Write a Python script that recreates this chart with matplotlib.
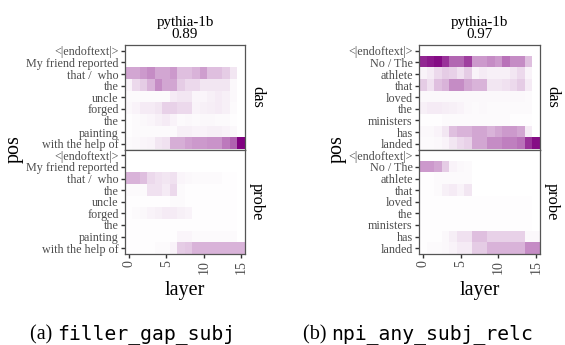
import numpy as np
import matplotlib
matplotlib.use("Agg")
import matplotlib.pyplot as plt
from matplotlib.colors import LinearSegmentedColormap

W, H = 565, 345

layers = list(range(16))
xticks = [0, 5, 10, 15]

pos_a = ["<|endoftext|>", "My friend reported", "that /  who", "the", "uncle",
         "forged", "the", "painting", "with the help of"]
pos_b = ["<|endoftext|>", "No / The", "athlete", "that", "loved", "the",
         "ministers", "has", "landed"]

title_a = "pythia-1b\n0.89"
title_b = "pythia-1b\n0.97"
facets = ["das", "probe"]
captions = [("(a)", "filler_gap_subj"), ("(b)", "npi_any_subj_relc")]

# values: rows = positions (top to bottom), columns = layers 0..15
das_a = [
    [0]*16,
    [0]*16,
    [.35, .35, .40, .45, .35, .35, .40, .25, .25, .30, .38, .25, .25, .20, .10, 0],
    [.05, .15, .20, .30, .45, .35, .35, .20, .15, .15, .10, .10, .10, .10, .03, 0],
    [.02, .02, .02, .02, .02, .02, .08, .10, .10, .04, .04, .06, .08, .06, .03, 0],
    [.03, .05, .08, .08, .10, .18, .18, .15, .15, .05, .06, .07, .08, .06, .02, 0],
    [.01, .02, .03, .04, .06, .08, .05, .02, .03, .02, .03, .03, .02, .02, .01, 0],
    [.01, .02, .02, .02, .02, .02, .02, .06, .06, .05, .05, .06, .06, .05, .03, 0],
    [.02, .03, .04, .05, .10, .12, .32, .32, .37, .40, .40, .42, .42, .52, .62, 1.0],
]
probe_a = [
    [0]*16,
    [0]*16,
    [.30, .30, .25, .15, .12, .10, .12, .04, .03, .02, .02, .02, .02, .01, .01, 0],
    [.02, .02, .02, .12, .12, .08, .15, .02, .01, .01, .01, .01, .01, .01, .01, 0],
    [.01, .01, .01, .01, .01, .01, .02, .02, .01, .01, .01, .01, .01, .01, .01, 0],
    [.01, .02, .03, .05, .06, .08, .08, .06, .05, .01, .01, .01, .01, .01, .01, 0],
    [.01, .01, .01, .01, .01, .01, .01, .01, .01, .01, .01, .01, .01, .01, .01, 0],
    [.01, .01, .01, .01, .01, .01, .01, .04, .04, .02, .02, .02, .02, .02, .02, 0],
    [.01, .01, .01, .01, .02, .02, .05, .20, .22, .30, .30, .30, .30, .30, .30, .30],
]
das_b = [
    [0]*16,
    [.85, .90, .95, .80, .60, .60, .75, .40, .40, .45, .40, .55, .45, .45, .25, 0],
    [.05, .08, .15, .20, .18, .12, .20, .05, .08, .06, .06, .06, .10, .15, .05, 0],
    [.20, .12, .25, .30, .45, .45, .35, .30, .30, .10, .10, .12, .15, .20, .08, 0],
    [.03, .03, .03, .03, .03, .03, .03, .03, .03, .03, .03, .03, .03, .03, .02, 0],
    [.06, .08, .08, .07, .06, .05, .03, .02, .03, .02, .02, .02, .02, .02, .02, 0],
    [.01, .01, .01, .02, .02, .02, .02, .02, .02, .02, .02, .02, .01, .01, .01, 0],
    [.03, .03, .05, .10, .25, .30, .30, .35, .35, .30, .35, .40, .40, .35, .08, 0],
    [.02, .02, .03, .05, .10, .15, .18, .35, .35, .45, .45, .50, .50, .55, .80, .95],
]
probe_b = [
    [0]*16,
    [.40, .40, .35, .20, .05, .03, .02, 0, 0, 0, 0, 0, 0, 0, 0, 0],
    [.01, .01, .02, .02, .02, .02, .02, 0, 0, 0, 0, 0, 0, 0, 0, 0],
    [.01, .01, .02, .06, .08, .05, .10, 0, 0, 0, 0, 0, 0, 0, 0, 0],
    [.01, .01, .01, .01, .01, .01, .01, .01, .01, .01, .01, .01, .01, .01, .01, 0],
    [.01, .01, .01, .01, .01, .01, .01, .01, .01, .01, .01, .01, .01, .01, .01, 0],
    [.01, .01, .01, .01, .01, .01, .01, .01, .01, .01, .01, .01, .01, .01, .01, 0],
    [.01, .01, .01, .03, .07, .12, .12, .25, .25, .18, .18, .18, .18, .18, .03, .03],
    [.01, .02, .02, .03, .05, .08, .08, .20, .20, .30, .30, .30, .30, .30, .45, .45],
]

cmap = LinearSegmentedColormap.from_list("wp", ["#ffffff", "#800080"])
serif = ["Liberation Serif", "DejaVu Serif"]
mono = ["DejaVu Sans Mono"]

fig = plt.figure(figsize=(W / 100, H / 100), dpi=100)


def add_ax(x0, y0, x1, y1):
    return fig.add_axes([x0 / W, 1 - y1 / H, (x1 - x0) / W, (y1 - y0) / H])


def draw_panel(ax, data, labels, bottom):
    arr = np.array(data, dtype=float)
    ax.imshow(arr, cmap=cmap, vmin=0, vmax=1, aspect="auto",
              interpolation="nearest",
              extent=(layers[0] - 0.5, layers[-1] + 0.5, len(labels) - 0.5, -0.5))
    ax.set_xlim(layers[0] - 0.5, layers[-1] + 0.5)
    ax.set_ylim(len(labels) - 0.5, -0.5)
    ax.set_yticks(range(len(labels)))
    ax.set_yticklabels(labels, fontfamily=serif, fontsize=8.7, color="#4d4d4d")
    if bottom:
        ax.set_xticks(xticks)
        ax.set_xticklabels([str(t) for t in xticks], rotation=90,
                           fontfamily=serif, fontsize=10, color="#4d4d4d")
        ax.tick_params(axis="x", length=3, width=1, color="#333333", pad=1.5)
    else:
        ax.set_xticks([])
    ax.tick_params(axis="y", length=3, width=1, color="#333333", pad=1.5)
    for s in ax.spines.values():
        s.set_color("#555555")
        s.set_linewidth(0.9)


groups = [
    (125, 245, pos_a, das_a, probe_a, title_a, 14, captions[0], 30),
    (419, 540, pos_b, das_b, probe_b, title_b, 337, captions[1], 303),
]
y_top, y_mid, y_bot = 45, 149.5, 254

for (x0, x1, labels, d1, d2, title, posx, cap, capx) in groups:
    a1 = add_ax(x0, y_top, x1, y_mid)
    a2 = add_ax(x0, y_mid, x1, y_bot)
    draw_panel(a1, d1, labels, False)
    draw_panel(a2, d2, labels, True)
    cx = (x0 + x1) / 2
    fig.text(cx / W, 1 - 38.5 / H, title, ha="center", va="baseline",
             multialignment="center", linespacing=0.92,
             fontfamily=serif, fontsize=10.8)
    fig.text((x1 + 12) / W, 1 - ((y_top + y_mid) / 2) / H, facets[0],
             rotation=-90, ha="center", va="center", fontfamily=serif, fontsize=11.8)
    fig.text((x1 + 12) / W, 1 - ((y_mid + y_bot) / 2) / H, facets[1],
             rotation=-90, ha="center", va="center", fontfamily=serif, fontsize=11.8)
    fig.text(cx / W, 1 - 290 / H, "layer", ha="center", va="center",
             fontfamily=serif, fontsize=14.5)
    fig.text(posx / W, 1 - y_mid / H, "pos", rotation=90, ha="center", va="center",
             fontfamily=serif, fontsize=14.5)
    t = fig.text(capx / W, 1 - 339 / H, cap[0] + " ", ha="left", va="baseline",
                 fontfamily=serif, fontsize=14.5)
    fig.canvas.draw()
    bb = t.get_window_extent()
    fig.text(bb.x1 / W, 1 - 339 / H, cap[1], ha="left", va="baseline",
             fontfamily=mono, fontsize=14.2)

fig.savefig("out.png", dpi=100)
